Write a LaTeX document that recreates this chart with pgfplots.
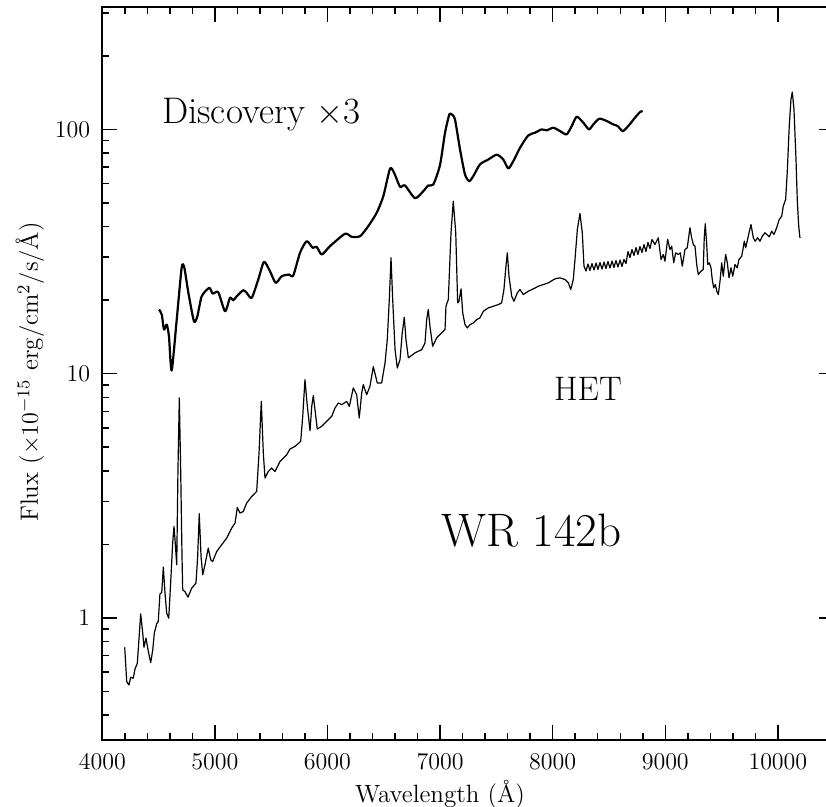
\documentclass[border=0pt]{standalone}
\usepackage{pgfplots}
\pgfplotsset{compat=1.18}
\usetikzlibrary{calc}

% discovery spectrum, already multiplied by 3
\pgfplotstableread{
wl flux
4504 18.3
4528 17.45
4548 15.15
4572 15.88
4592 14.22
4616 10.3
4661 16.65
4705 27.2
4728 27.2
4764 21.5
4814 16.38
4844 17.17
4883 20.74
4950 22.45
4980 21.27
5030 21.54
5090 18.0
5134 20.43
5163 19.97
5194 20.74
5252 21.95
5282 21.42
5327 20.43
5385 24.28
5436 28.7
5489 26.27
5540 23.53
5593 25.04
5658 25.45
5696 25.21
5756 31.24
5815 34.85
5869 32.75
5904 33.06
5949 30.74
6022 33.25
6155 37.37
6215 36.33
6289 36.53
6362 40.15
6437 45.56
6496 53.3
6555 69.0
6591 66.5
6644 58.24
6688 58.96
6777 52.3
6851 55.86
6895 58.96
6940 59.5
6999 71.4
7044 96.9
7082 115.2
7103 115.2
7132 109.9
7177 82.8
7221 65.4
7259 61.4
7295 64.4
7354 71.9
7428 75.3
7503 78.8
7561 75.3
7606 69.2
7650 74.1
7710 84.1
7783 94.5
7843 96.9
7902 100
7947 99.1
8005 101.6
8065 98.4
8124 95.4
8169 103.2
8213 112.7
8272 106.5
8322 100
8361 104.8
8414 110.6
8480 108.2
8538 104.8
8577 103.2
8622 98.4
8671 103.2
8731 111.7
8775 117.7
8799 118.9
}\discovery

% HET spectrum
\pgfplotstableread{
wl flux
4199 0.758
4217 0.548
4237 0.531
4252 0.571
4275 0.566
4290 0.616
4311 0.652
4341 1.038
4359 0.866
4370 0.758
4388 0.826
4409 0.728
4430 0.656
4448 0.739
4462 0.866
4483 0.945
4497 0.966
4512 1.254
4528 1.270
4542 1.614
4557 1.262
4572 1.045
4590 0.997
4607 1.388
4625 2.024
4637 2.367
4648 2.024
4661 1.649
4672 4.043
4684 7.951
4696 4.043
4708 1.784
4714 1.302
4734 1.281
4761 1.216
4794 1.323
4832 1.388
4847 1.784
4861 2.668
4877 1.784
4892 1.501
4912 1.649
4941 1.931
4963 1.729
4980 1.701
5016 1.869
5060 1.992
5105 2.121
5149 2.331
5179 2.444
5199 2.831
5223 2.686
5252 2.727
5282 2.952
5327 3.141
5371 3.293
5392 4.732
5412 7.699
5430 4.732
5445 3.737
5474 3.977
5504 4.106
5534 3.977
5578 4.370
5638 4.656
5667 4.913
5711 5.035
5762 5.279
5780 6.683
5800 9.450
5821 7.345
5845 5.838
5860 7.345
5874 8.125
5889 7.119
5909 5.932
5948 6.081
5993 6.376
6037 6.683
6067 7.234
6096 7.584
6126 7.464
6171 7.699
6194 7.345
6229 8.738
6259 8.202
6282 6.583
6304 8.335
6318 9.014
6348 8.202
6377 8.872
6407 10.68
6442 9.160
6481 9.160
6511 11.06
6531 13.79
6549 20.11
6564 29.80
6579 20.11
6600 12.54
6620 10.55
6644 11.41
6664 14.69
6682 17.01
6697 13.79
6718 11.60
6777 12.16
6837 12.54
6866 13.36
6881 16.65
6895 18.30
6910 15.63
6934 12.94
6970 14.01
7014 14.69
7044 15.15
7052 18.87
7073 20.11
7097 37.73
7117 50.83
7139 37.73
7156 19.49
7168 19.79
7186 22.24
7201 17.73
7221 15.88
7242 15.39
7266 15.88
7295 16.13
7325 16.65
7354 16.92
7384 18.00
7428 18.59
7472 18.87
7517 19.18
7547 19.49
7567 22.10
7585 27.54
7597 31.24
7612 25.04
7636 20.74
7656 19.79
7686 21.42
7710 22.10
7739 21.08
7783 21.75
7828 22.24
7872 22.79
7917 23.16
7961 23.53
8020 24.44
8065 24.67
8109 24.28
8139 23.53
8160 22.10
8183 24.28
8198 29.33
8219 38.93
8242 45.27
8263 37.73
8278 27.54
8296 26.31
8314 28.11
8331 26.43
8349 28.24
8367 26.56
8385 28.38
8402 26.68
8420 28.51
8438 26.81
8456 28.64
8473 26.94
8491 28.77
8509 27.07
8527 28.91
8544 27.20
8562 29.05
8580 27.33
8598 29.19
8615 27.46
8633 29.33
8651 28.24
8669 31.62
8686 29.88
8704 32.22
8722 30.45
8740 32.84
8757 30.74
8775 33.15
8793 31.33
8811 33.79
8828 31.62
8846 34.43
8864 32.53
8882 35.42
8908 33.79
8938 35.98
8962 29.33
8982 30.74
8997 28.86
9021 35.42
9042 32.22
9057 33.25
9075 28.43
9092 31.24
9115 30.74
9133 31.24
9151 27.54
9175 32.22
9195 32.75
9219 39.55
9234 35.98
9249 33.79
9264 33.25
9279 27.97
9293 25.45
9317 26.27
9337 26.68
9346 35.98
9355 41.07
9368 33.79
9377 27.97
9391 28.43
9406 27.12
9417 24.28
9430 22.45
9444 23.16
9459 21.62
9471 21.08
9486 23.89
9501 28.43
9515 25.04
9536 30.74
9551 28.43
9566 24.67
9584 27.12
9599 25.04
9619 27.97
9639 27.12
9654 29.33
9679 30.25
9702 34.85
9714 32.75
9737 36.53
9761 40.80
9782 35.98
9797 34.85
9821 35.98
9841 34.85
9861 36.53
9885 37.73
9924 36.33
9945 38.30
9965 37.13
9989 39.55
10012 42.77
10034 44.13
10048 48.51
10069 51.66
10083 66.46
10101 103.2
10116 132.7
10128 142.2
10143 120.8
10161 75.3
10172 51.66
10185 40.15
10196 35.98
}\het

\begin{document}
\begin{tikzpicture}
  \begin{axis}[
      name=spec,
      scale only axis,
      width=365.95pt, height=366.35pt,
      xmin=4000, xmax=10500,
      ymode=log, ymin=0.316228, ymax=316.228,
      xtick={4000,5000,...,10000},
      minor x tick num=4,
      ytick={1,10,100}, yticklabels={1,10,100},
      minor ytick={0.4,0.5,0.6,0.7,0.8,0.9,2,3,4,5,6,7,8,9,20,30,40,50,60,70,80,90,200,300},
      tick align=inside,
      major tick length=7.5pt, minor tick length=3.5pt,
      axis line style={line width=1.1pt},
      every tick/.style={black, line width=0.75pt},
      tick label style={font=\fontsize{12}{14}\selectfont},
      xticklabel style={/pgf/number format/1000 sep={}, yshift=-3.5pt},
      yticklabel style={xshift=-2.5pt},
      scaled x ticks=false,
    ]
    \addplot[black, line width=1.1pt, line join=round, smooth, tension=0.4] table[x=wl, y=flux] {\discovery};
    \addplot[black, line width=0.6pt, line join=round] table[x=wl, y=flux] {\het};

    \node[anchor=base west, font=\fontsize{18.5}{22}\selectfont] at (axis cs:4470,105.8) {Discovery $\times$3};
    \node[anchor=base west, font=\fontsize{17}{20}\selectfont] at (axis cs:7950,7.77) {HET};
    \node[anchor=base west, font=\fontsize{23.5}{28}\selectfont] at (axis cs:6950,1.954) {WR 142b};
  \end{axis}
  \node[font=\fontsize{12.5}{15}\selectfont] at ($(spec.south west)+(168.85pt,-27.5pt)$) {Wavelength (\AA)};
  \node[rotate=90, font=\fontsize{12.5}{15}\selectfont] at ($(spec.south west)+(-36.15pt,184pt)$)
    {Flux ($\times10^{-15}$ erg/cm$^2$/s/\AA)};
  \pgfresetboundingbox
  \path ($(spec.south west)+(-51.15pt,-33.5pt)$) rectangle ($(spec.south west)+(361.85pt,370pt)$);
\end{tikzpicture}
\end{document}
